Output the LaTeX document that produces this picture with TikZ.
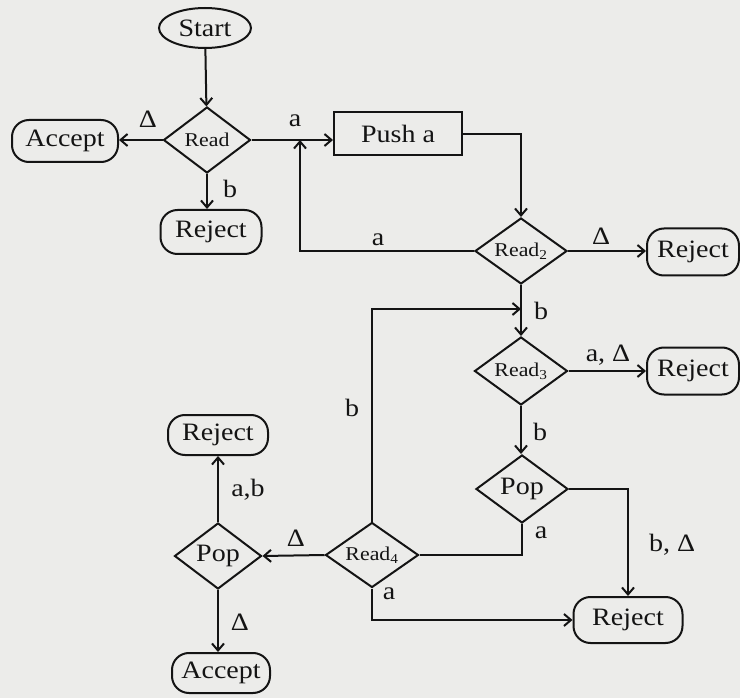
\documentclass[tikz,border=0pt]{standalone}
\usepackage{fontspec}
\setmainfont{Liberation Serif}[FakeStretch=1.12]
\usetikzlibrary{shapes.geometric,arrows.meta}
\definecolor{paper}{RGB}{236,236,234}
\definecolor{ink}{RGB}{20,20,20}
\begin{document}
\begin{tikzpicture}[x=1pt,y=-1pt,
  line width=2pt, draw=ink,
  every node/.style={text=ink, font=\fontsize{25}{28}\selectfont},
  term/.style={draw, rectangle, rounded corners=17pt, inner sep=0pt},
  startbox/.style={draw, ellipse, inner sep=0pt, minimum width=92pt, minimum height=40pt},
  procbox/.style={draw, rectangle, inner sep=0pt, minimum width=128pt, minimum height=43pt},
  decide/.style={draw, diamond, inner sep=0pt, aspect=1.4},
  readfont/.style={font=\fontsize{19.5}{22}\selectfont},
  lbl/.style={inner sep=0pt},
  arr/.style={-{Straight Barb[length=7pt,width=12pt,line width=2pt]}}
]
\fill[paper] (0,0) rectangle (740,698);
\useasboundingbox (0,0) rectangle (740,698);

% nodes
\node[startbox] (start) at (205,28) {Start};
\node[decide, readfont, minimum width=87pt, minimum height=66pt] (read) at (207,140) {Read};
\node[term, minimum width=106pt, minimum height=42pt] (acc1) at (65,141) {Accept};
\node[term, minimum width=101pt, minimum height=44pt] (rej1) at (211,232) {Reject};
\node[procbox] (push) at (398,134) {Push a};
\node[decide, readfont, minimum width=92pt, minimum height=66pt] (read2) at (521,251) {Read\textsubscript{2}};
\node[term, minimum width=92pt, minimum height=47pt] (rej2) at (693,252) {Reject};
\node[decide, readfont, minimum width=93pt, minimum height=68pt] (read3) at (521,371) {Read\textsubscript{3}};
\node[term, minimum width=92pt, minimum height=47pt] (rej3) at (693,371) {Reject};
\node[decide, minimum width=92pt, minimum height=68pt] (pop1) at (522,489) {Pop};
\node[term, minimum width=109pt, minimum height=46pt] (rej4) at (628,620) {Reject};
\node[decide, readfont, minimum width=93pt, minimum height=65pt] (read4) at (372,555) {Read\textsubscript{4}};
\node[decide, minimum width=87pt, minimum height=66pt] (pop2) at (218,556) {Pop};
\node[term, minimum width=100pt, minimum height=40pt] (rej5) at (218,435) {Reject};
\node[term, minimum width=98pt, minimum height=40pt] (acc2) at (221,673) {Accept};

% helper coordinates
\coordinate (jn) at (300,140);
\coordinate (topc) at (372,309);
\coordinate (hitc) at (521,309);

% connectors
\draw[arr] (start) -- (read);
\draw[arr] (read.west) -- (acc1.east |- read.west);
\draw[arr] (read.south) -- (rej1.north -| read.south);
\draw[arr] (read.east) -- (read.east -| push.west);
\draw[arr] (push.east) -| (read2.north);
\draw[arr] (read2.west) -- (read2.west -| jn) -- (jn);
\draw[arr] (read2.east) -- (rej2.west |- read2.east);
\draw[arr] (read2.south) -- (read3.north);
\draw[arr] (read4.north) -- (topc) -- (hitc);
\draw[arr] (read3.east) -- (rej3.west |- read3.east);
\draw[arr] (read3.south) -- (read3.south |- pop1.north);
\draw[arr] (pop1.east) -| (rej4.north);
\draw (pop1.south) |- (read4.east);
\draw[arr] (read4.south) |- (rej4.west);
\draw[arr] (read4.west) -- (pop2.east);
\draw[arr] (pop2.north) -- (rej5.south);
\draw[arr] (pop2.south) -- (pop2.south |- acc2.north);

% labels
\node[lbl] (l1) at (148,119) {Δ};
\node[lbl] (l2) at (230,189) {b};
\node[lbl] (l3) at (295,121) {a};
\node[lbl] (l4) at (378,240) {a};
\node[lbl] (l5) at (601,236) {Δ};
\node[lbl] (l6) at (541,311) {b};
\node[lbl] (l7) at (608,355) {a, Δ};
\node[lbl] (l8) at (540,432) {b};
\node[lbl] (l9) at (541,533) {a};
\node[lbl] (l10) at (672,545) {b, Δ};
\node[lbl] (l11) at (389,594) {a};
\node[lbl] (l12) at (352,408) {b};
\node[lbl] (l13) at (296,538) {Δ};
\node[lbl] (l14) at (248,490) {a,b};
\node[lbl] (l15) at (240,622) {Δ};
\end{tikzpicture}
\end{document}
